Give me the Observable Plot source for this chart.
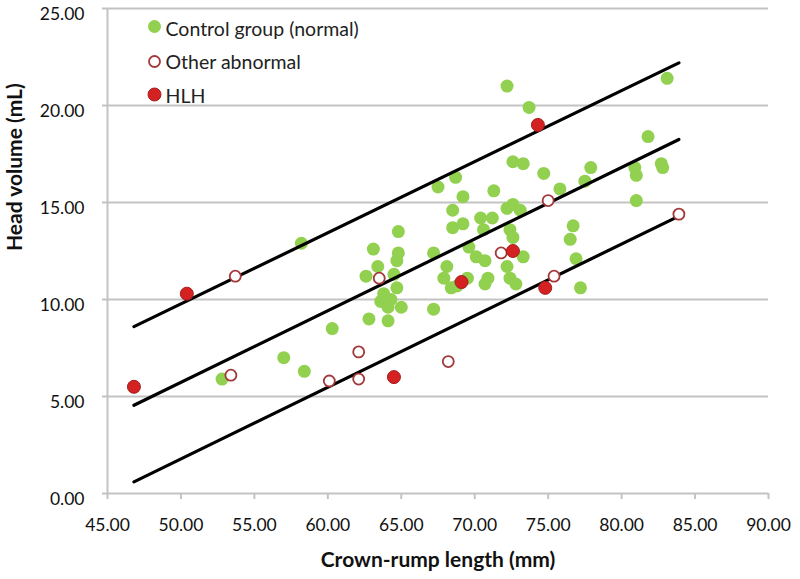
<!DOCTYPE html>
<html>
<head>
<meta charset="utf-8">
<script src="https://cdn.jsdelivr.net/npm/d3@7"></script>
<script src="https://cdn.jsdelivr.net/npm/@observablehq/plot@0.6"></script>
<style>
  html, body { margin: 0; padding: 0; background: #fff; }
  #chart { width: 800px; height: 579px; }
</style>
</head>
<body>
<div id="chart"></div>
<script>
// Tick labels
const xTicks = [45, 50, 55, 60, 65, 70, 75, 80, 85, 90];
const yTicks = [0, 5, 10, 15, 20, 25];

// Control group (normal)
const controlX = [58.2, 52.8, 57.0, 58.4, 60.3, 62.8, 64.1, 63.6, 64.1, 64.3, 65.0, 63.8, 64.7, 64.5, 62.6, 63.4, 64.7, 64.8, 63.1, 64.8,
  67.2, 67.2, 68.1, 67.9, 68.4, 68.8, 69.5, 69.6, 70.1, 70.7, 70.9, 70.7, 68.5, 69.2, 70.6, 70.4, 71.2, 68.5, 69.2, 67.5,
  68.7, 71.3, 72.2, 73.7, 72.6, 73.3, 74.7, 75.8, 77.5, 77.9, 72.2, 72.6, 73.1, 72.4, 72.6, 73.3, 72.2, 72.4, 72.8, 76.7,
  76.5, 76.9, 77.2, 81.8, 82.7, 82.8, 80.9, 81.0, 81.0, 83.1];
const controlY = [12.9, 5.9, 7.0, 6.3, 8.5, 9.0, 8.9, 9.9, 9.6, 10.0, 9.6, 10.3, 10.6, 11.3, 11.2, 11.7, 12.0, 12.4, 12.6, 13.5,
  9.5, 12.4, 11.7, 11.1, 10.6, 10.7, 11.1, 12.7, 12.2, 12.0, 11.1, 10.8, 13.7, 13.9, 13.6, 14.2, 14.2, 14.6, 15.3, 15.8,
  16.3, 15.6, 21.0, 19.9, 17.1, 17.0, 16.5, 15.7, 16.1, 16.8, 14.7, 14.9, 14.6, 13.6, 13.2, 12.2, 11.7, 11.1, 10.8, 13.8,
  13.1, 12.1, 10.6, 18.4, 17.0, 16.8, 16.8, 16.4, 15.1, 21.4];

// Other abnormal
const otherX = [53.7, 53.4, 60.1, 62.1, 62.1, 68.2, 63.5, 75.0, 71.8, 75.4, 83.9];
const otherY = [11.2, 6.1, 5.8, 7.3, 5.9, 6.8, 11.1, 15.1, 12.4, 11.2, 14.4];

// HLH
const hlhX = [46.8, 50.4, 74.3, 72.6, 69.1, 74.8, 64.5];
const hlhY = [5.5, 10.3, 19.0, 12.5, 10.9, 10.6, 6.0];

// Reference lines (end points)
const lineX = [46.8, 83.9];
const upperY = [8.6, 22.2];
const meanY = [4.55, 18.25];
const lowerY = [0.6, 14.3];

const legendLabels = ["Control group (normal)", "Other abnormal", "HLH"];

const toRows = (xs, ys) => xs.map((x, i) => ({x, y: ys[i]}));
const control = toRows(controlX, controlY);
const other = toRows(otherX, otherY);
const hlh = toRows(hlhX, hlhY);
const lines = [
  toRows(lineX, upperY),
  toRows(lineX, meanY),
  toRows(lineX, lowerY)
];

const green = "#92d050";
const red = "#d42222";
const redStroke = "#a51c1c";
const openStroke = "#a3383a";
const grid = "#c3c3c3";

const legendDy = [18, 53, 86];
const legendTextDy = [21, 54, 88];

const chart = Plot.plot({
  width: 800,
  height: 579,
  marginLeft: 107,
  marginRight: 32,
  marginTop: 8,
  marginBottom: 86,
  x: {domain: [45, 90]},
  y: {domain: [0, 25]},
  style: {fontFamily: "Lato, 'Open Sans', sans-serif", fontSize: "17.5px", color: "#111", background: "#fff"},
  marks: [
    Plot.gridY(yTicks, {stroke: grid, strokeOpacity: 1, strokeWidth: 2}),
    Plot.ruleX([45], {stroke: grid, strokeWidth: 2}),
    Plot.axisX({ticks: xTicks, tickFormat: d => d.toFixed(2), tickSize: 6, tickPadding: 19, stroke: grid, strokeWidth: 2, fontSize: 17.5, label: null}),
    Plot.axisY({ticks: yTicks, tickFormat: () => "", tickSize: 5, stroke: grid, strokeWidth: 2, label: null}),
    Plot.axisY({ticks: yTicks, tickFormat: d => d.toFixed(2), tickSize: 0, tickPadding: 23, dy: 6, fontSize: 17.5, label: null}),
    Plot.dot(control, {x: "x", y: "y", r: 6.5, fill: green}),
    ...lines.map(l => Plot.line(l, {x: "x", y: "y", stroke: "#000", strokeWidth: 3.2})),
    Plot.dot(other, {x: "x", y: "y", r: 5.5, fill: "#fff", stroke: openStroke, strokeWidth: 1.8}),
    Plot.dot(hlh, {x: "x", y: "y", r: 6.5, fill: red, stroke: redStroke, strokeWidth: 1}),
    // Legend
    Plot.dot([0], {frameAnchor: "top-left", dx: 47, dy: legendDy[0], r: 6.5, fill: green}),
    Plot.dot([0], {frameAnchor: "top-left", dx: 47, dy: legendDy[1], r: 5.5, fill: "#fff", stroke: openStroke, strokeWidth: 1.8}),
    Plot.dot([0], {frameAnchor: "top-left", dx: 47, dy: legendDy[2], r: 6.5, fill: red, stroke: redStroke, strokeWidth: 1}),
    ...legendLabels.map((t, i) => Plot.text([t], {frameAnchor: "top-left", dx: 58, dy: legendTextDy[i], textAnchor: "start", lineAnchor: "middle", fontSize: 19.5, fill: "#222"})),
    // Axis titles
    Plot.text(["Crown-rump length (mm)"], {frameAnchor: "bottom", dy: 67, lineAnchor: "middle", fontWeight: "bold", fontSize: 21, fill: "#111"}),
    Plot.text(["Head volume (mL)"], {frameAnchor: "left", dx: -92, rotate: -90, lineAnchor: "middle", fontWeight: "bold", fontSize: 21, fill: "#111"})
  ]
});
document.getElementById("chart").appendChild(chart);
</script>
</body>
</html>
